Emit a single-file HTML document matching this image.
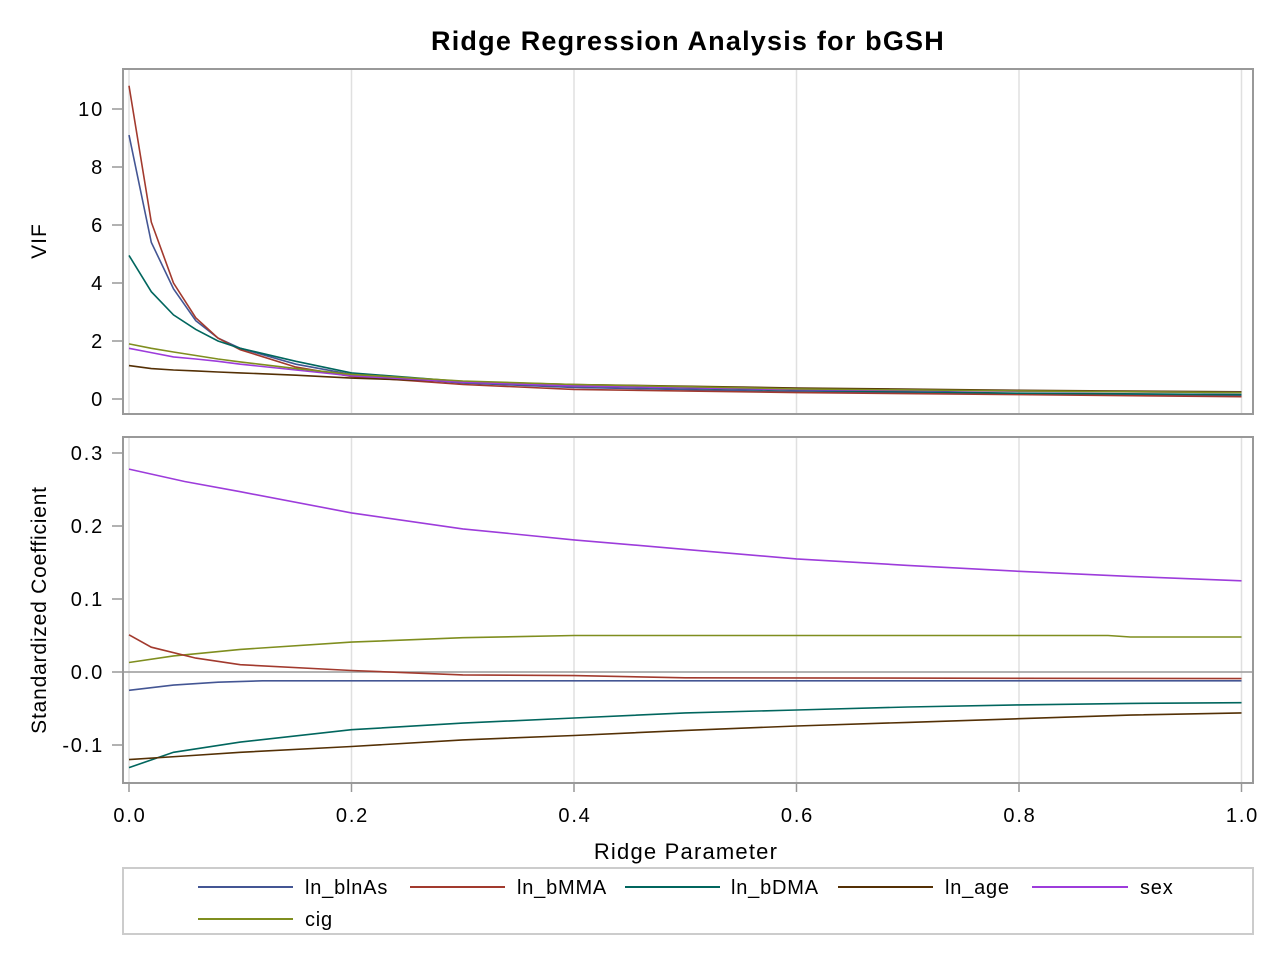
<!DOCTYPE html>
<html><head><meta charset="utf-8"><style>
body{margin:0;background:#fff;}
svg text{font-family:"Liberation Sans",Arial,sans-serif;fill:#000;}
</style></head><body>
<svg id="s" width="1280" height="960" xmlns="http://www.w3.org/2000/svg">
<rect width="1280" height="960" fill="#fff"/>
<text x="688" y="50" font-size="27" font-weight="bold" letter-spacing="1.2" text-anchor="middle">Ridge Regression Analysis for bGSH</text>
<g id="grid" stroke="#e0e0e0" stroke-width="1.5"></g>
<line x1="123" y1="672" x2="1253" y2="672" stroke="#999" stroke-width="1.5"/>
<g id="series" fill="none" stroke-width="1.6"></g>
<rect x="123" y="69" width="1130" height="345" fill="none" stroke="#999" stroke-width="2"/>
<rect x="123" y="437" width="1130" height="346" fill="none" stroke="#999" stroke-width="2"/>
<g id="ticks" stroke="#999" stroke-width="1.5"></g>
<g id="labels" font-size="20" letter-spacing="1.8"></g>
<text x="46" y="241" font-size="21" letter-spacing="1" text-anchor="middle" transform="rotate(-90 46 241)">VIF</text>
<text x="46" y="610" font-size="21" letter-spacing="0.8" text-anchor="middle" transform="rotate(-90 46 610)">Standardized Coefficient</text>
<text x="686" y="859" font-size="22" letter-spacing="1.2" text-anchor="middle">Ridge Parameter</text>
<rect x="123" y="868" width="1130" height="66" fill="none" stroke="#ccc" stroke-width="2"/>
<g font-size="20" letter-spacing="0.8" stroke-width="2">
<line x1="198" y1="887" x2="293" y2="887" stroke="#445694"/><text x="305" y="894">ln_blnAs</text>
<line x1="410" y1="887" x2="505" y2="887" stroke="#A23A2E"/><text x="517" y="894">ln_bMMA</text>
<line x1="625" y1="887" x2="720" y2="887" stroke="#01665E"/><text x="731" y="894">ln_bDMA</text>
<line x1="838" y1="887" x2="933" y2="887" stroke="#543005"/><text x="945" y="894">ln_age</text>
<line x1="1032" y1="887" x2="1128" y2="887" stroke="#9D3CDB"/><text x="1140" y="894">sex</text>
<line x1="198" y1="919" x2="293" y2="919" stroke="#7F8E1F"/><text x="305" y="926">cig</text>
</g>
</svg>
<script>
var NS="http://www.w3.org/2000/svg";
function el(p,t,a,txt){var e=document.createElementNS(NS,t);for(var k in a)e.setAttribute(k,a[k]);if(txt!==undefined)e.textContent=txt;document.getElementById(p).appendChild(e);}
function X(k){return 129+k*1112.5;}
function YV(v){return 399-v*29;}
function YC(c){return 672-c*730;}
for(var i=0;i<=5;i++){var x=X(i*0.2);
 el("grid","line",{x1:x,y1:70,x2:x,y2:413});el("grid","line",{x1:x,y1:438,x2:x,y2:782});
 el("ticks","line",{x1:x,y1:784,x2:x,y2:792});
 el("labels","text",{x:x+1,y:822,"text-anchor":"middle"},(i*0.2).toFixed(1));}
for(var v=0;v<=10;v+=2){var y=YV(v);el("ticks","line",{x1:112,y1:y,x2:123,y2:y});
 el("labels","text",{x:104,y:y+7,"text-anchor":"end"},v);}
[0.3,0.2,0.1,0,-0.1].forEach(function(c){var y=YC(c);el("ticks","line",{x1:112,y1:y,x2:123,y2:y});
 el("labels","text",{x:104,y:y+7,"text-anchor":"end"},c.toFixed(1));});
var K=[0,.02,.04,.06,.08,.1,.15,.2,.3,.4,.6,.8,1];
var vif={
"#445694":[9.1,5.4,3.8,2.7,2.1,1.75,1.2,0.85,0.55,0.4,0.25,0.18,0.12],
"#A23A2E":[10.8,6.1,4.0,2.8,2.1,1.7,1.1,0.78,0.5,0.33,0.22,0.15,0.08],
"#01665E":[4.95,3.7,2.9,2.4,2.0,1.75,1.3,0.9,0.6,0.45,0.3,0.2,0.15],
"#543005":[1.15,1.05,1.0,0.97,0.93,0.9,0.82,0.72,0.6,0.5,0.38,0.3,0.25],
"#9D3CDB":[1.75,1.6,1.45,1.38,1.3,1.2,1.0,0.8,0.58,0.45,0.32,0.27,0.22],
"#7F8E1F":[1.9,1.75,1.62,1.5,1.38,1.28,1.05,0.85,0.62,0.5,0.35,0.28,0.22]};
for(var c in vif){var p=K.map(function(k,i){return X(k).toFixed(1)+","+YV(vif[c][i]).toFixed(1);}).join(" ");
 el("series","polyline",{points:p,stroke:c});}
var coef={
"#9D3CDB":[[0,.278],[.05,.261],[.1,.247],[.2,.218],[.3,.196],[.4,.181],[.5,.168],[.6,.155],[.7,.146],[.8,.138],[.9,.131],[1,.125]],
"#7F8E1F":[[0,.013],[.04,.022],[.1,.031],[.2,.041],[.3,.047],[.4,.05],[.88,.05],[.9,.048],[1,.048]],
"#A23A2E":[[0,.051],[.02,.034],[.06,.019],[.1,.01],[.2,.002],[.3,-.004],[.4,-.005],[.5,-.008],[1,-.009]],
"#445694":[[0,-.025],[.04,-.018],[.08,-.014],[.12,-.012],[1,-.012]],
"#01665E":[[0,-.131],[.04,-.11],[.1,-.096],[.2,-.079],[.3,-.07],[.4,-.063],[.5,-.056],[.6,-.052],[.7,-.048],[.8,-.045],[.9,-.043],[1,-.042]],
"#543005":[[0,-.12],[.05,-.115],[.1,-.11],[.2,-.102],[.3,-.093],[.4,-.087],[.5,-.08],[.6,-.074],[.7,-.069],[.8,-.064],[.9,-.059],[1,-.056]]};
for(var c in coef){var p=coef[c].map(function(q){return X(q[0]).toFixed(1)+","+YC(q[1]).toFixed(1);}).join(" ");
 el("series","polyline",{points:p,stroke:c});}
</script>
</body></html>
